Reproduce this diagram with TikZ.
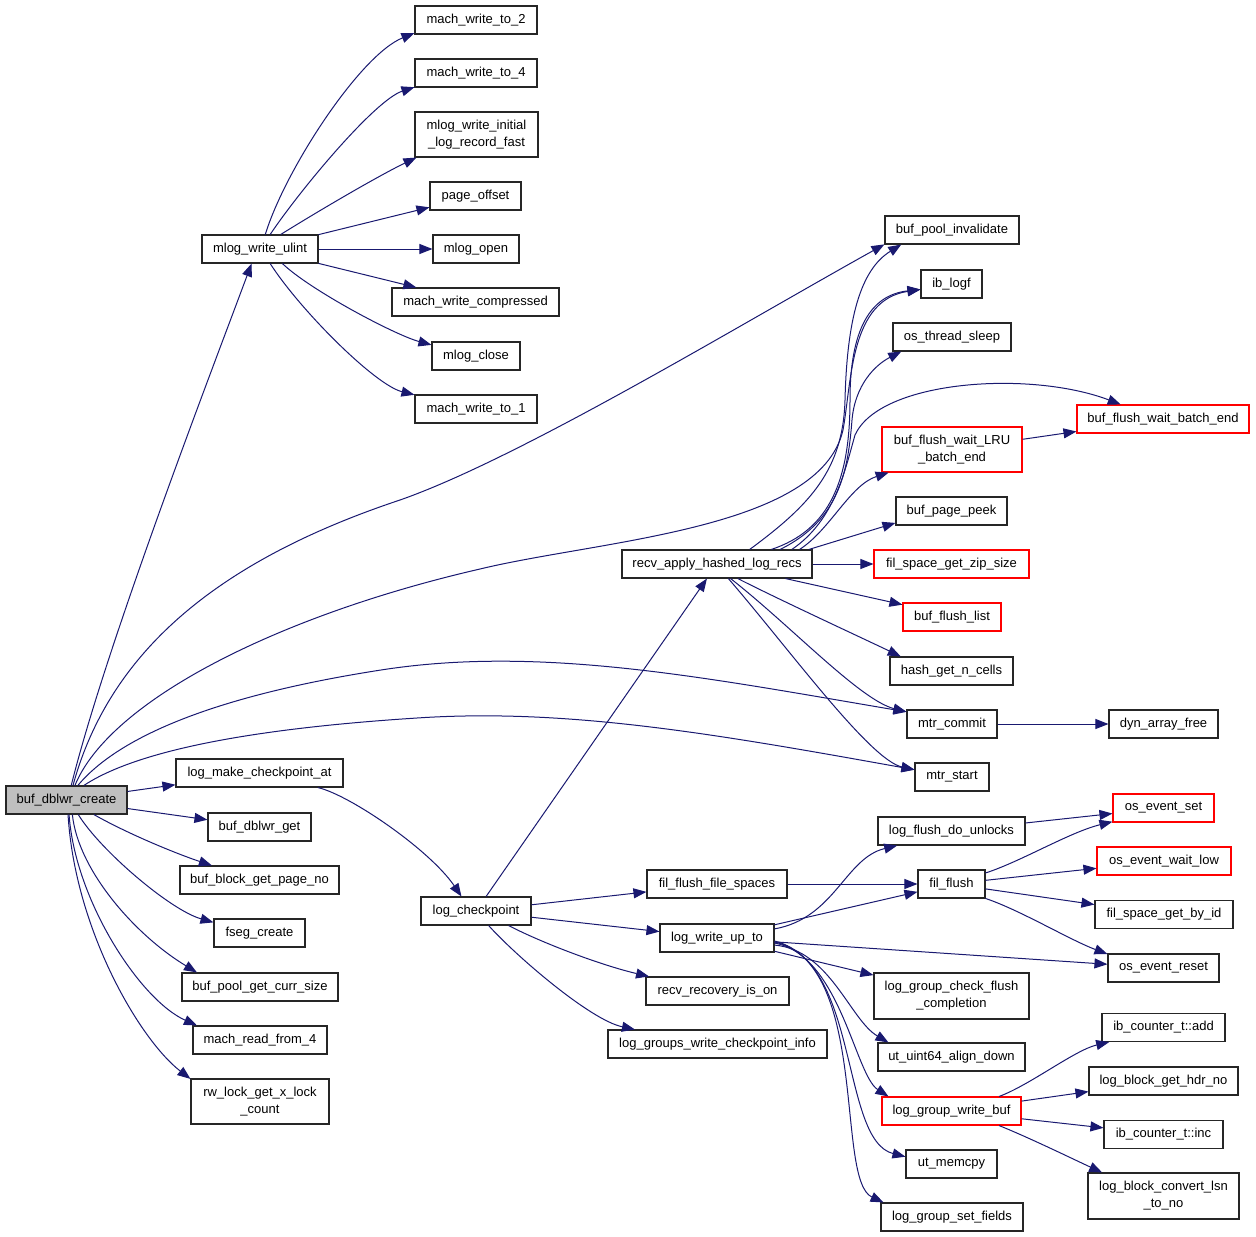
\documentclass[tikz,border=0pt]{standalone}
\usepackage{fontspec}
\setmainfont{Liberation Sans}
\usetikzlibrary{arrows.meta}
\tikzset{>={Triangle[length=13pt,width=10pt]}}
\definecolor{edgeblue}{HTML}{191970}
\tikzset{fn/.style={draw=black!85, line width=1.1pt, fill=white, inner sep=0pt, minimum height=28, align=center, font=\fontsize{13}{17}\selectfont},
  hot/.style={fn, draw=red},
  call/.style={->, draw=edgeblue, line width=1pt}}

\begin{document}
\begin{tikzpicture}[x=1pt,y=-1pt]
\useasboundingbox (0,0) rectangle (1256,1237);
\node[fn, fill=black!25, minimum width=121] (dblwr) at (66.5,800) {buf\_dblwr\_create};
\node[fn, minimum width=167] (lmca) at (259.5,773) {log\_make\_checkpoint\_at};
\node[fn, minimum width=103] (dbget) at (259.5,827) {buf\_dblwr\_get};
\node[fn, minimum width=159] (bgpn) at (259.5,880) {buf\_block\_get\_page\_no};
\node[fn, minimum width=91] (fseg) at (259.5,933) {fseg\_create};
\node[fn, minimum width=156] (bpcs) at (260,987) {buf\_pool\_get\_curr\_size};
\node[fn, minimum width=134] (mrf4) at (260,1040) {mach\_read\_from\_4};
\node[fn, minimum width=138, minimum height=45] (rwlock) at (260,1101.5) {rw\_lock\_get\_x\_lock\\\_count};
\node[fn, minimum width=116] (mwu) at (260,249) {mlog\_write\_ulint};
\node[fn, minimum width=122] (mw2) at (476,20) {mach\_write\_to\_2};
\node[fn, minimum width=122] (mw4) at (476,73) {mach\_write\_to\_4};
\node[fn, minimum width=123, minimum height=45] (mwilrf) at (476.5,134.5) {mlog\_write\_initial\\\_log\_record\_fast};
\node[fn, minimum width=91] (pgoff) at (475.5,196) {page\_offset};
\node[fn, minimum width=86] (mlopen) at (476,249) {mlog\_open};
\node[fn, minimum width=167] (mwc) at (475.5,302) {mach\_write\_compressed};
\node[fn, minimum width=88] (mlclose) at (476,356) {mlog\_close};
\node[fn, minimum width=122] (mw1) at (476,409) {mach\_write\_to\_1};
\node[fn, minimum width=134] (bpi) at (952,230) {buf\_pool\_invalidate};
\node[fn, minimum width=61] (iblogf) at (951.5,284) {ib\_logf};
\node[fn, minimum width=118] (ots) at (952,337) {os\_thread\_sleep};
\node[hot, minimum width=140, minimum height=45] (bfwlru) at (952,449.5) {buf\_flush\_wait\_LRU\\\_batch\_end};
\node[hot, minimum width=172] (bfwbe) at (1163,419) {buf\_flush\_wait\_batch\_end};
\node[fn, minimum width=111] (bpp) at (951.5,511) {buf\_page\_peek};
\node[fn, minimum width=190] (recv) at (717,564) {recv\_apply\_hashed\_log\_recs};
\node[hot, minimum width=155] (fsgzs) at (951.5,564) {fil\_space\_get\_zip\_size};
\node[hot, minimum width=98] (bfl) at (952,617) {buf\_flush\_list};
\node[fn, minimum width=123] (hgnc) at (951.5,671) {hash\_get\_n\_cells};
\node[fn, minimum width=90] (mtrc) at (952,724) {mtr\_commit};
\node[fn, minimum width=109] (daf) at (1163.5,724) {dyn\_array\_free};
\node[fn, minimum width=74] (mtrs) at (952,777) {mtr\_start};
\node[fn, minimum width=110] (lchk) at (476,911) {log\_checkpoint};
\node[fn, minimum width=140] (ffs) at (717,884) {fil\_flush\_file\_spaces};
\node[fn, minimum width=114] (lwut) at (717,938) {log\_write\_up\_to};
\node[fn, minimum width=143] (rrio) at (717.5,991) {recv\_recovery\_is\_on};
\node[fn, minimum width=219] (lgwci) at (717.5,1044) {log\_groups\_write\_checkpoint\_info};
\node[fn, minimum width=147] (lfdu) at (951.5,831) {log\_flush\_do\_unlocks};
\node[fn, minimum width=67] (filflush) at (951.5,884) {fil\_flush};
\node[hot, minimum width=101] (oes) at (1163.5,808) {os\_event\_set};
\node[hot, minimum width=134] (oewl) at (1164,861) {os\_event\_wait\_low};
\node[fn, minimum width=138] (fsgbi) at (1164,914.5) {fil\_space\_get\_by\_id};
\node[fn, minimum width=111] (oer) at (1163.5,968) {os\_event\_reset};
\node[fn, minimum width=155, minimum height=46] (lgcfc) at (951.5,996) {log\_group\_check\_flush\\\_completion};
\node[fn, minimum width=147] (uuad) at (951.5,1057) {ut\_uint64\_align\_down};
\node[hot, minimum width=139] (lgwb) at (951.5,1111) {log\_group\_write\_buf};
\node[fn, minimum width=91] (utm) at (951.5,1164) {ut\_memcpy};
\node[fn, minimum width=142] (lgsf) at (952,1217) {log\_group\_set\_fields};
\node[fn, minimum width=123] (icadd) at (1163.5,1027.5) {ib\_counter\_t::add};
\node[fn, minimum width=149] (lbghn) at (1163.5,1081) {log\_block\_get\_hdr\_no};
\node[fn, minimum width=119] (icinc) at (1163.5,1134.5) {ib\_counter\_t::inc};
\node[fn, minimum width=151, minimum height=46] (lbcltn) at (1163.5,1196) {log\_block\_convert\_lsn\\\_to\_no};

% buf_dblwr_create
\draw[call] (dblwr.72) .. controls (106,646) and (207,383) .. (mwu.-120);
\draw[call] (dblwr.66) .. controls (110,650) and (220,560) .. (400,500) .. controls (520,458) and (736,327) .. (bpi.-168);
\draw[call] (dblwr.60) .. controls (110,700) and (280,615) .. (480,569) .. controls (600,540) and (820,530) .. (843,430) .. controls (852,380) and (850,300) .. (iblogf.-170);
\draw[call] (dblwr.52) .. controls (120,735) and (220,695) .. (381,670) .. controls (541,645) and (707,678) .. (mtrc.165);
\draw[call] (dblwr.40) .. controls (130,755) and (230,730) .. (417,718) .. controls (567,708) and (716,734) .. (mtrs.169);
\draw[call] (dblwr) -- (lmca);
\draw[call] (dblwr) -- (dbget);
\draw[call] (dblwr.-28) .. controls (130,835) and (180,855) .. (bgpn.163);
\draw[call] (dblwr.-51) .. controls (100,850) and (170,910) .. (fseg.167);
\draw[call] (dblwr.-68) .. controls (78,870) and (135,935) .. (bpcs.167);
\draw[call] (dblwr.-80) .. controls (75,900) and (140,1000) .. (mrf4.167);
\draw[call] (dblwr.-84) .. controls (75,930) and (140,1040) .. (rwlock.162);

% mlog_write_ulint
\draw[call] (mwu.70) .. controls (285,170) and (360,55) .. (mw2.-168);
\draw[call] (mwu.55) .. controls (300,190) and (375,100) .. (mw4.-167);
\draw[call] (mwu.35) .. controls (320,210) and (380,175) .. (mwilrf.-159);
\draw[call] (mwu) -- (pgoff);
\draw[call] (mwu) -- (mlopen);
\draw[call] (mwu) -- (mwc);
\draw[call] (mwu.-33) .. controls (310,290) and (395,335) .. (mlclose.166);
\draw[call] (mwu.-55) .. controls (300,310) and (375,385) .. (mw1.167);

% recv_apply_hashed_log_recs
\draw[call] (recv.24) .. controls (810,505) and (843,470) .. (845,400) .. controls (847,320) and (860,270) .. (bpi.-164);
\draw[call] (recv.15) .. controls (830,530) and (850,480) .. (850,400) .. controls (850,330) and (870,295) .. (iblogf.-170);
\draw[call] (recv.13) .. controls (840,520) and (848,470) .. (852,420) .. controls (855,385) and (875,365) .. (ots.-164);
\draw[call] (recv.11) .. controls (835,520) and (845,470) .. (855,435) .. controls (880,380) and (1030,370) .. (bfwbe.161);
\draw[call] (recv.10) .. controls (830,530) and (850,485) .. (bfwlru.-160);
\draw[call] (recv.9) -- (bpp.-168);
\draw[call] (recv) -- (fsgzs);
\draw[call] (recv.-12) -- (bfl.166);
\draw[call] (recv.-35) .. controls (780,600) and (860,637) .. (hgnc.164);
\draw[call] (recv.-47) .. controls (790,625) and (860,700) .. (mtrc.165);
\draw[call] (recv.-52) .. controls (790,650) and (870,760) .. (mtrs.169);
\draw[call] (mtrc) -- (daf);
\draw[call] (bfwlru) -- (bfwbe);

% log_checkpoint
\draw[call] (lmca.-14) .. controls (350,795) and (430,850) .. (lchk.135);
\draw[call] (lchk) -- (recv);
\draw[call] (lchk) -- (ffs);
\draw[call] (lchk) -- (lwut);
\draw[call] (lchk.-24) .. controls (540,942) and (600,965) .. (rrio.168);
\draw[call] (lchk.-49) .. controls (515,955) and (590,1020) .. (lgwci.170);

% log_write_up_to
\draw[call] (ffs) -- (filflush);
\draw[call] (lwut) -- (filflush);
\draw[call] (lwut.9) .. controls (835,918) and (845,858) .. (lfdu.-165);
\draw[call] (lwut) -- (oer);
\draw[call] (lwut.-13) -- (lgcfc.165);
\draw[call] (lwut.-7) .. controls (830,950) and (850,1020) .. (uuad.167);
\draw[call] (lwut.-5) .. controls (840,955) and (855,1075) .. (lgwb.167);
\draw[call] (lwut.-4) .. controls (860,960) and (840,1140) .. (utm.171);
\draw[call] (lwut.-3) .. controls (870,965) and (835,1180) .. (lgsf.168);

% fil_flush
\draw[call] (lfdu) -- (oes);
\draw[call] (filflush.18) .. controls (1020,862) and (1070,832) .. (oes.-165);
\draw[call] (filflush) -- (oewl);
\draw[call] (filflush) -- (fsgbi);
\draw[call] (filflush.-23) .. controls (1020,910) and (1070,940) .. (oer.166);

% log_group_write_buf
\draw[call] (lgwb.17) .. controls (1030,1085) and (1075,1050) .. (icadd.-165);
\draw[call] (lgwb) -- (lbghn);
\draw[call] (lgwb) -- (icinc);
\draw[call] (lgwb.-17) .. controls (1030,1138) and (1075,1160) .. (lbcltn.159);
\end{tikzpicture}
\end{document}
